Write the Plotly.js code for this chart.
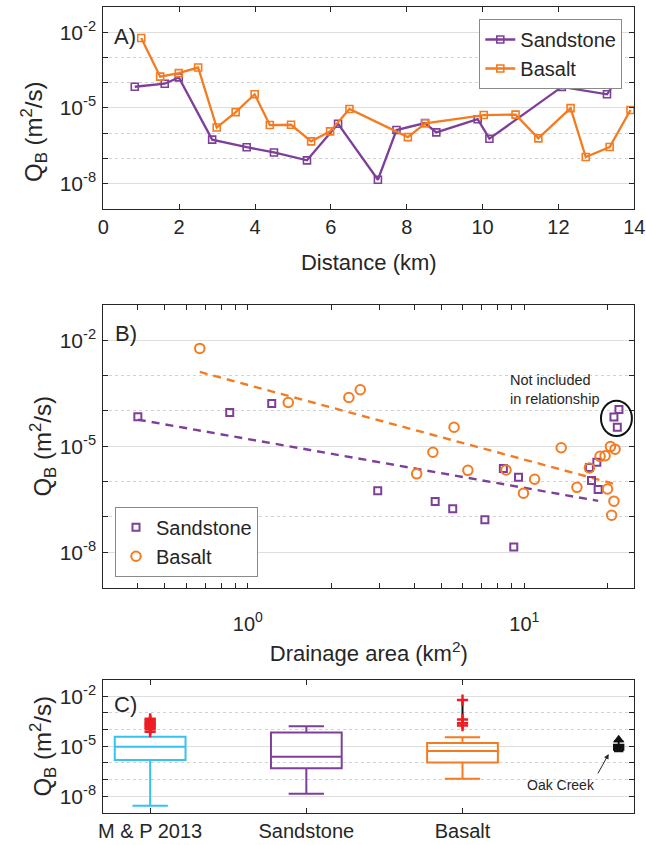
<!DOCTYPE html>
<html>
<head>
<meta charset="utf-8">
<script src="https://cdn.plot.ly/plotly-3.0.1.min.js"></script>
<style>
  html, body { margin: 0; padding: 0; background: #ffffff; }
  #chart { width: 646px; height: 845px; }
</style>
</head>
<body>
<div id="chart"></div>
<script>
// ---------------- DATA ----------------
// Sandstone reaches (same samples in panels A and B)
const sandDistance = [0.83, 1.62, 1.99, 2.87, 3.78, 4.50, 5.37, 6.19, 7.24, 7.73, 8.48, 8.78, 9.87, 10.18, 12.09, 13.28, 13.51];
const sandArea     = [0.40, 0.86, 1.22, 2.95, 4.76, 5.51, 7.20, 8.40, 9.16, 9.53, 17.2, 17.5, 18.3, 18.5, 21.1, 21.7, 22.0];
const sandQB       = [6.9e-5, 9.1e-5, 1.62e-4, 5.5e-7, 2.75e-7, 1.70e-7, 8.3e-8, 2.34e-6, 1.41e-8, 1.32e-6, 2.51e-6, 1.07e-6, 3.55e-6, 6.0e-7, 6.8e-5, 3.47e-5, 1.10e-4];
const sandInRelationship = [true, true, true, true, true, true, true, true, true, true, true, true, true, true, false, false, false];

// Basalt reaches
const basaltDistance = [1.00, 1.50, 1.99, 2.50, 2.99, 3.49, 3.99, 4.39, 4.95, 5.48, 5.98, 6.49, 8.03, 8.49, 10.03, 10.87, 11.47, 12.32, 12.72, 13.35, 13.90];
const basaltArea     = [0.67, 1.40, 2.32, 2.55, 4.08, 4.67, 5.57, 6.25, 8.59, 9.93, 10.9, 13.6, 15.5, 17.2, 18.8, 19.6, 20.0, 20.5, 20.7, 21.1, 21.3];
const basaltQB       = [5.9e-3, 1.74e-4, 2.4e-4, 4.0e-4, 1.66e-6, 6.8e-6, 3.47e-5, 2.09e-6, 2.14e-6, 4.7e-7, 1.17e-6, 9.1e-6, 6.9e-7, 2.45e-6, 5.2e-6, 5.4e-6, 6.2e-7, 9.8e-6, 1.12e-7, 2.8e-7, 8.3e-6];
const basaltInRelationship = basaltQB.map(() => true);

// Panel C: box categories and published summary values
const boxCategories = ['M & P 2013', 'Sandstone', 'Basalt'];
const mp2013Stats = { q1: 1.51e-6, median: 9.5e-6, q3: 3.8e-5, lower: 2.75e-9, upper: 3.8e-5 };
const mp2013Outliers = [4.5e-4, 3.6e-4, 3.0e-4, 2.5e-4, 2.1e-4, 1.8e-4, 1.55e-4, 1.3e-4, 1.05e-4, 7.5e-5];
const oakCreekStats = { q1: 6.3e-6, median: 8.9e-6, q3: 1.26e-5, lower: 5.0e-6, upper: 2.0e-5 };
const oakCreekPeak = [2.5e-5];

// Axis tick values / labels
const distanceTicks = [0, 2, 4, 6, 8, 10, 12, 14];
const qMajorTicks = [1e-8, 1e-5, 1e-2];
const qMajorLabels = ['10<sup>-8</sup>', '10<sup>-5</sup>', '10<sup>-2</sup>'];
const qMinorTicks = [1e-9, 1e-7, 1e-6, 1e-4, 1e-3, 1e-1];
const areaMajorTicks = [1, 10];
const areaMajorLabels = ['10<sup>0</sup>', '10<sup>1</sup>'];
const areaMinorTicks = [0.4, 0.5, 0.6, 0.7, 0.8, 0.9, 2, 3, 4, 5, 6, 7, 8, 9, 20];

// ---------------- HELPERS ----------------
function mQuantile(sorted, p) {
  const n = sorted.length;
  const pos = p * n + 0.5;
  if (pos <= 1) return sorted[0];
  if (pos >= n) return sorted[n - 1];
  const i = Math.floor(pos), f = pos - i;
  return sorted[i - 1] + f * (sorted[i] - sorted[i - 1]);
}
function boxStats(vals) {
  const s = [...vals].sort((a, b) => a - b);
  const q1 = mQuantile(s, 0.25), median = mQuantile(s, 0.5), q3 = mQuantile(s, 0.75);
  const iqr = q3 - q1, lo = q1 - 1.5 * iqr, hi = q3 + 1.5 * iqr;
  const inside = s.filter(v => v >= lo && v <= hi);
  return { q1, median, q3, lower: inside[0], upper: inside[inside.length - 1], out: s.filter(v => v < lo || v > hi) };
}
function logFit(area, q, use) {
  const xs = [], ys = [];
  area.forEach((a, i) => { if (use[i]) { xs.push(Math.log10(a)); ys.push(Math.log10(q[i])); } });
  const n = xs.length;
  const mx = xs.reduce((a, b) => a + b, 0) / n, my = ys.reduce((a, b) => a + b, 0) / n;
  let sxy = 0, sxx = 0;
  for (let i = 0; i < n; i++) { sxy += (xs[i] - mx) * (ys[i] - my); sxx += (xs[i] - mx) ** 2; }
  const b = sxy / sxx, a = my - b * mx;
  const x0 = Math.min(...xs), x1 = Math.max(...xs);
  return { x: [10 ** x0, 10 ** x1], y: [10 ** (a + b * x0), 10 ** (a + b * x1)] };
}

// ---------------- STYLE ----------------
const W = 646, H = 845;
const TXT = '#262626';
const PURPLE = '#7E3F98', ORANGE = '#F47B20', CYAN = '#35C3EE', RED = '#EE1D24', BLACK = '#111111';
const GRID = '#dedede', GRIDMINOR = '#d2d2d2';
const FONT = 'Liberation Sans, Arial, Helvetica, sans-serif';
const xDom = [103.3 / W, 634.3 / W];
const domA = [1 - 208.7 / H, 1 - 7.1 / H];
const domB = [1 - 587.6 / H, 1 - 305.0 / H];
const domC = [1 - 813.0 / H, 1 - 679.6 / H];
const qRange = [-9, -1];
const areaRange = [Math.log10(0.3), Math.log10(25)];
const YTITLE = 24;

function logQAxis(dom, anchor, title) {
  return {
    domain: dom, anchor: anchor, type: 'log', range: qRange, automargin: false,
    tickmode: 'array', tickvals: qMajorTicks, ticktext: qMajorLabels,
    ticks: 'inside', ticklen: 5, tickwidth: 1, tickcolor: TXT, ticklabelstandoff: 2,
    showline: true, linecolor: TXT, linewidth: 1, mirror: 'ticks',
    showgrid: true, gridcolor: GRID, gridwidth: 1, zeroline: false,
    tickfont: { size: 21, color: TXT, family: FONT },
    minor: { tickmode: 'array', tickvals: qMinorTicks, ticks: 'inside', ticklen: 5, tickcolor: TXT,
             showgrid: true, gridcolor: GRIDMINOR, griddash: 'dot', gridwidth: 1 },
    title: { text: title, font: { size: YTITLE, color: TXT, family: FONT }, standoff: 0 }
  };
}
const qTitle = 'Q<sub>B</sub> (m<sup>2</sup>/s)';

// ---------------- TRACES ----------------
const traces = [];
// Panel A
traces.push({ type: 'scatter', mode: 'lines+markers', name: 'Sandstone', x: sandDistance, y: sandQB,
  xaxis: 'x', yaxis: 'y', legend: 'legend',
  line: { color: PURPLE, width: 2.3 }, marker: { symbol: 'square-open', size: 7, color: PURPLE, line: { width: 1.6, color: PURPLE } } });
traces.push({ type: 'scatter', mode: 'lines+markers', name: 'Basalt', x: basaltDistance, y: basaltQB,
  xaxis: 'x', yaxis: 'y', legend: 'legend',
  line: { color: ORANGE, width: 2.3 }, marker: { symbol: 'square-open', size: 7, color: ORANGE, line: { width: 1.6, color: ORANGE } } });

// Panel B fits (least squares in log space, circled points excluded)
const sandFit = logFit(sandArea, sandQB, sandInRelationship);
const basaltFit = logFit(basaltArea, basaltQB, basaltInRelationship);
traces.push({ type: 'scatter', mode: 'lines', x: sandFit.x, y: sandFit.y, xaxis: 'x2', yaxis: 'y2', showlegend: false,
  line: { color: PURPLE, width: 2.4, dash: '8px,6px' } });
traces.push({ type: 'scatter', mode: 'lines', x: basaltFit.x, y: basaltFit.y, xaxis: 'x2', yaxis: 'y2', showlegend: false,
  line: { color: ORANGE, width: 2.4, dash: '8px,6px' } });
// Panel B points
traces.push({ type: 'scatter', mode: 'markers', name: 'Sandstone', x: sandArea, y: sandQB, xaxis: 'x2', yaxis: 'y2', legend: 'legend2',
  marker: { symbol: 'square-open', size: 7, color: PURPLE, line: { width: 2, color: PURPLE } } });
traces.push({ type: 'scatter', mode: 'markers', name: 'Basalt', x: basaltArea, y: basaltQB, xaxis: 'x2', yaxis: 'y2', legend: 'legend2',
  marker: { symbol: 'circle-open', size: 9.5, color: ORANGE, line: { width: 2, color: ORANGE } } });

// Panel C boxes
const sandBox = boxStats(sandQB);
const basaltBox = boxStats(basaltQB);
function boxTrace(pos, st, color, width, fill) {
  return { type: 'box', x: [pos], q1: [st.q1], median: [st.median], q3: [st.q3], lowerfence: [st.lower], upperfence: [st.upper],
    xaxis: 'x3', yaxis: 'y3', showlegend: false, boxpoints: false, width: width, whiskerwidth: 0.5,
    line: { color: color, width: 2 }, fillcolor: fill || 'rgba(0,0,0,0)', hoverinfo: 'skip' };
}
traces.push(boxTrace(1, mp2013Stats, CYAN, 0.453));
traces.push(boxTrace(2, sandBox, PURPLE, 0.453));
traces.push(boxTrace(3, basaltBox, ORANGE, 0.453));
// black connector through basalt outliers
traces.push({ type: 'scatter', mode: 'lines', x: [3, 3], y: [Math.min(...basaltBox.out), Math.max(...basaltBox.out)],
  xaxis: 'x3', yaxis: 'y3', showlegend: false, line: { color: BLACK, width: 2 } });
traces.push({ type: 'scatter', mode: 'markers', x: mp2013Outliers.map(() => 1), y: mp2013Outliers, xaxis: 'x3', yaxis: 'y3', showlegend: false,
  marker: { symbol: 'cross-thin', size: 8, line: { width: 2.5, color: RED }, color: RED } });
traces.push({ type: 'scatter', mode: 'markers', x: basaltBox.out.map(() => 3), y: basaltBox.out, xaxis: 'x3', yaxis: 'y3', showlegend: false,
  marker: { symbol: 'cross-thin', size: 8, line: { width: 2.5, color: RED }, color: RED } });
// Oak Creek
traces.push(Object.assign(boxTrace(4, oakCreekStats, BLACK, 0.06, BLACK), { whiskerwidth: 1 }));
traces.push({ type: 'scatter', mode: 'markers', x: [4], y: oakCreekPeak, xaxis: 'x3', yaxis: 'y3', showlegend: false,
  marker: { symbol: 'triangle-up', size: 10, color: BLACK } });

// ---------------- LAYOUT ----------------
// ellipse around points excluded from the relationship (paper coordinates)
const exLogA = sandArea.filter((a, i) => !sandInRelationship[i]).map(a => Math.log10(a));
const exLogQ = sandQB.filter((q, i) => !sandInRelationship[i]).map(q => Math.log10(q));
const ellCx = (Math.min(...exLogA) + Math.max(...exLogA)) / 2;
const ellCy = (Math.min(...exLogQ) + Math.max(...exLogQ)) / 2;
const pX = v => xDom[0] + (v - areaRange[0]) / (areaRange[1] - areaRange[0]) * (xDom[1] - xDom[0]);
const pY = v => domB[0] + (v - qRange[0]) / (qRange[1] - qRange[0]) * (domB[1] - domB[0]);

const layout = {
  width: W, height: H,
  margin: { l: 0, r: 0, t: 0, b: 0 },
  paper_bgcolor: '#ffffff', plot_bgcolor: '#ffffff',
  font: { family: FONT, color: TXT, size: 20 },
  xaxis: {
    domain: xDom, anchor: 'y', range: [0, 14], automargin: false,
    tickmode: 'array', tickvals: distanceTicks,
    ticks: 'inside', ticklen: 5, tickcolor: TXT, showline: true, linecolor: TXT, mirror: 'ticks',
    showgrid: false, zeroline: false, tickfont: { size: 20, color: TXT, family: FONT },
    title: { text: 'Distance (km)', font: { size: 22, color: TXT, family: FONT }, standoff: 17 }
  },
  yaxis: Object.assign(logQAxis(domA, 'x', ''), { title: { text: '' } }),
  xaxis2: {
    domain: xDom, anchor: 'y2', type: 'log', range: areaRange, automargin: false,
    tickmode: 'array', tickvals: areaMajorTicks, ticktext: areaMajorLabels,
    ticks: 'inside', ticklen: 5, tickcolor: TXT, showline: true, linecolor: TXT, mirror: 'ticks', ticklabelstandoff: 18,
    showgrid: false, zeroline: false, tickfont: { size: 20, color: TXT, family: FONT },
    minor: { tickmode: 'array', tickvals: areaMinorTicks, ticks: 'inside', ticklen: 5, tickcolor: TXT, showgrid: false },
    title: { text: 'Drainage area (km<sup>2</sup>)', font: { size: 22, color: TXT, family: FONT }, standoff: 12 }
  },
  yaxis2: logQAxis(domB, 'x2', qTitle),
  xaxis3: {
    domain: xDom, anchor: 'y3', range: [0.7, 4.1], automargin: false,
    tickmode: 'array', tickvals: [1, 2, 3], ticktext: boxCategories,
    ticks: 'inside', ticklen: 5, tickcolor: TXT, showline: true, linecolor: TXT, mirror: 'ticks',
    showgrid: false, zeroline: false, tickfont: { size: 20, color: TXT, family: FONT }
  },
  yaxis3: logQAxis(domC, 'x3', qTitle),
  legend: {
    x: 622.3 / W, xanchor: 'right', y: 1 - 19 / H, yanchor: 'top',
    bgcolor: '#ffffff', bordercolor: '#8a8a8a', borderwidth: 1,
    font: { size: 20, color: TXT, family: FONT }, tracegroupgap: 0, itemwidth: 30
  },
  legend2: {
    x: 115 / W, xanchor: 'left', y: 1 - 576.7 / H, yanchor: 'bottom',
    bgcolor: '#ffffff', bordercolor: '#8a8a8a', borderwidth: 1,
    font: { size: 20, color: TXT, family: FONT }, tracegroupgap: 0, itemwidth: 30
  },
  shapes: [
    { type: 'circle', xref: 'paper', yref: 'paper',
      x0: pX(ellCx - 0.056), x1: pX(ellCx + 0.056), y0: pY(ellCy - 0.50), y1: pY(ellCy + 0.50),
      line: { color: BLACK, width: 2 }, fillcolor: 'rgba(0,0,0,0)' }
  ],
  annotations: [
    { text: qTitle, xref: 'paper', yref: 'paper', x: 34 / W, y: 1 - 132 / H, textangle: -90,
      xanchor: 'center', yanchor: 'middle', showarrow: false, font: { size: YTITLE, color: TXT, family: FONT } },
    { text: 'A)', xref: 'x domain', yref: 'y domain', x: 0.0158, y: 0.853, xanchor: 'left', yanchor: 'middle', showarrow: false,
      font: { size: 22, color: TXT, family: FONT } },
    { text: 'B)', xref: 'x2 domain', yref: 'y2 domain', x: 0.0188, y: 0.900, xanchor: 'left', yanchor: 'middle', showarrow: false,
      font: { size: 22, color: TXT, family: FONT } },
    { text: 'C)', xref: 'x3 domain', yref: 'y3 domain', x: 0.0158, y: 0.81, xanchor: 'left', yanchor: 'middle', showarrow: false,
      font: { size: 22, color: TXT, family: FONT } },
    { text: 'Not included<br>in relationship', xref: 'x2', yref: 'y2', x: 0.9425, y: -3.40, xanchor: 'left', yanchor: 'middle',
      align: 'left', showarrow: false, font: { size: 14.5, color: TXT, family: FONT } },
    { text: 'Oak Creek', xref: 'x3', yref: 'y3', x: 3.63, y: -7.34, xanchor: 'center', yanchor: 'middle', showarrow: false,
      font: { size: 14, color: TXT, family: FONT } },
    { text: '', xref: 'x3', yref: 'y3', x: 3.936, y: -5.46, showarrow: true, ax: -11.6, ay: 21,
      arrowhead: 2, arrowsize: 1, arrowwidth: 1, arrowcolor: TXT }
  ]
};

Plotly.newPlot('chart', traces, layout, { staticPlot: true, displayModeBar: false });
</script>
</body>
</html>
